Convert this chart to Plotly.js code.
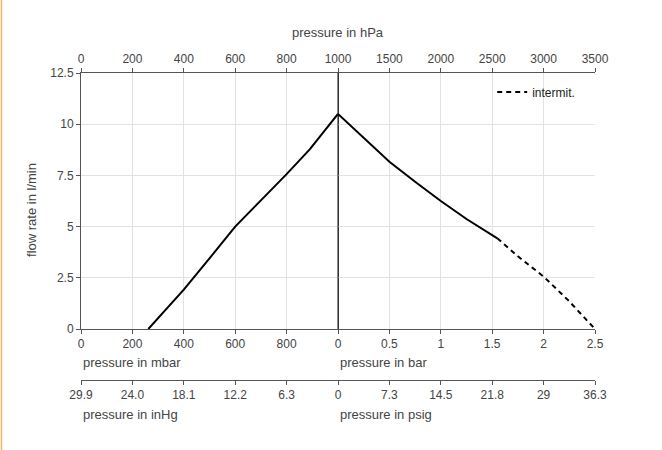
<!DOCTYPE html>
<html>
<head>
<meta charset="utf-8">
<script src="https://cdn.plot.ly/plotly-3.0.1.min.js"></script>
<style>html,body{margin:0;padding:0;background:#fff;}#chart{width:662px;height:450px;}</style>
</head>
<body>
<div id="chart"></div>
<script>
// Vacuum side (pressure in mbar, absolute)
const mbarX = [262, 400, 500, 600, 700, 800, 890, 950, 1000];
const mbarFlow = [0, 1.92, 3.45, 5.0, 6.28, 7.56, 8.77, 9.7, 10.5];
// Pressure side, continuous operation (bar)
const barX = [0, 0.25, 0.5, 0.75, 1.0, 1.25, 1.55];
const barFlow = [10.5, 9.35, 8.17, 7.19, 6.25, 5.37, 4.43];
// Pressure side, intermittent operation (bar)
const barIntX = [1.55, 1.75, 2.0, 2.25, 2.5];
const barIntFlow = [4.43, 3.55, 2.56, 1.35, 0];

// Tick labels
const mbarTicks = [0, 200, 400, 600, 800];
const barTicks = [0, 0.5, 1, 1.5, 2, 2.5];
const barTickText = ['0', '0.5', '1', '1.5', '2', '2.5'];
const hPaLeftTicks = [0, 200, 400, 600, 800];
const hPaRightTicks = [1000, 1500, 2000, 2500, 3000, 3500];
const inHgText = ['29.9', '24.0', '18.1', '12.2', '6.3'];
const psigText = ['0', '7.3', '14.5', '21.8', '29', '36.3'];
const flowTicks = [0, 2.5, 5, 7.5, 10, 12.5];
const flowTickText = ['0', '2.5', '5', '7.5', '10', '12.5'];

const FONT = 'Liberation Sans, Arial, sans-serif';
const TXT = '#444';
const LINE = '#555';
const GRID = '#e2e2e2';

function axBase(extra) {
  return Object.assign({
    showline: true, linecolor: LINE, linewidth: 1,
    ticks: 'outside', ticklen: 4, tickcolor: LINE, tickwidth: 1,
    tickfont: {family: FONT, size: 12, color: TXT},
    zeroline: false, showgrid: false, fixedrange: true
  }, extra);
}

// invisible helper traces so the extra scale axes get drawn
function axisHolder(xa, vals) {
  return {x: vals, y: vals.map(() => null), xaxis: xa, yaxis: 'y', mode: 'markers',
          marker: {opacity: 0}, showlegend: false, hoverinfo: 'skip'};
}

const traces = [
  {x: mbarX, y: mbarFlow, xaxis: 'x', yaxis: 'y', mode: 'lines',
   line: {color: '#000', width: 2}, showlegend: false, hoverinfo: 'skip'},
  {x: barX, y: barFlow, xaxis: 'x2', yaxis: 'y', mode: 'lines',
   line: {color: '#000', width: 2}, showlegend: false, hoverinfo: 'skip'},
  {x: barIntX, y: barIntFlow, xaxis: 'x2', yaxis: 'y', mode: 'lines',
   name: 'intermit.', line: {color: '#000', width: 2, dash: '5px,4px'},
   showlegend: true, hoverinfo: 'skip'},
  axisHolder('x3', hPaLeftTicks),
  axisHolder('x4', hPaRightTicks),
  axisHolder('x5', mbarTicks),
  axisHolder('x6', barTicks)
];

const layout = {
  width: 662, height: 450,
  margin: {l: 81, r: 67, t: 73, b: 70},
  paper_bgcolor: '#fff', plot_bgcolor: '#fff',
  font: {family: FONT, size: 12, color: TXT},
  showlegend: true,
  legend: {x: 0.80, y: 0.985, xanchor: 'left', yanchor: 'top',
           bgcolor: 'rgba(0,0,0,0)', borderwidth: 0,
           font: {family: FONT, size: 12, color: '#222'}, itemwidth: 30},
  xaxis: axBase({domain: [0, 0.5], range: [0, 1000], anchor: 'y',
    tickvals: mbarTicks, ticktext: mbarTicks.map(String),
    showgrid: true, gridcolor: GRID}),
  xaxis2: axBase({domain: [0.5, 1], range: [0, 2.5], anchor: 'y',
    tickvals: barTicks, ticktext: barTickText,
    showgrid: true, gridcolor: GRID}),
  xaxis3: axBase({overlaying: 'x', side: 'top', anchor: 'y', range: [0, 1000],
    tickvals: hPaLeftTicks, ticktext: hPaLeftTicks.map(String)}),
  xaxis4: axBase({overlaying: 'x2', side: 'top', anchor: 'y', range: [1000, 3500],
    tickvals: hPaRightTicks, ticktext: hPaRightTicks.map(String)}),
  xaxis5: axBase({overlaying: 'x', anchor: 'free', position: 0, range: [0, 1000],
    tickvals: mbarTicks, ticktext: inHgText}),
  xaxis6: axBase({overlaying: 'x2', anchor: 'free', position: 0, range: [0, 2.5],
    tickvals: barTicks, ticktext: psigText}),
  yaxis: axBase({domain: [0.1661, 1], range: [0, 12.5], anchor: 'x',
    tickvals: flowTicks, ticktext: flowTickText, mirror: true,
    showgrid: true, gridcolor: GRID}),
  shapes: [
    {type: 'line', xref: 'paper', yref: 'paper', x0: 0.5, x1: 0.5, y0: 0.1661, y1: 1,
     line: {color: '#111', width: 1}},
    {type: 'line', xref: 'paper', yref: 'paper', x0: -0.1547, x1: -0.1547, y0: -0.25, y1: 1.26,
     line: {color: '#f6b45a', width: 1.5}}
  ],
  annotations: [
    {text: 'pressure in hPa', xref: 'paper', yref: 'paper', x: 0.5, y: 1.1303,
     xanchor: 'center', yanchor: 'middle', showarrow: false, font: {size: 13, color: TXT}},
    {text: 'pressure in mbar', xref: 'paper', yref: 'paper', x: 0, y: 0.0554,
     xanchor: 'left', yanchor: 'middle', showarrow: false, font: {size: 13, color: TXT}},
    {text: 'pressure in bar', xref: 'paper', yref: 'paper', x: 0.5, y: 0.0554,
     xanchor: 'left', yanchor: 'middle', showarrow: false, font: {size: 13, color: TXT}},
    {text: 'pressure in inHg', xref: 'paper', yref: 'paper', x: 0, y: -0.114,
     xanchor: 'left', yanchor: 'middle', showarrow: false, font: {size: 13, color: TXT}},
    {text: 'pressure in psig', xref: 'paper', yref: 'paper', x: 0.5, y: -0.114,
     xanchor: 'left', yanchor: 'middle', showarrow: false, font: {size: 13, color: TXT}},
    {text: 'flow rate in l/min', xref: 'paper', yref: 'paper', x: -0.0953, y: 0.554,
     xanchor: 'center', yanchor: 'middle', textangle: -90, showarrow: false,
     font: {size: 13, color: TXT}}
  ]
};

Plotly.newPlot('chart', traces, layout, {staticPlot: true, displayModeBar: false});
</script>
</body>
</html>
